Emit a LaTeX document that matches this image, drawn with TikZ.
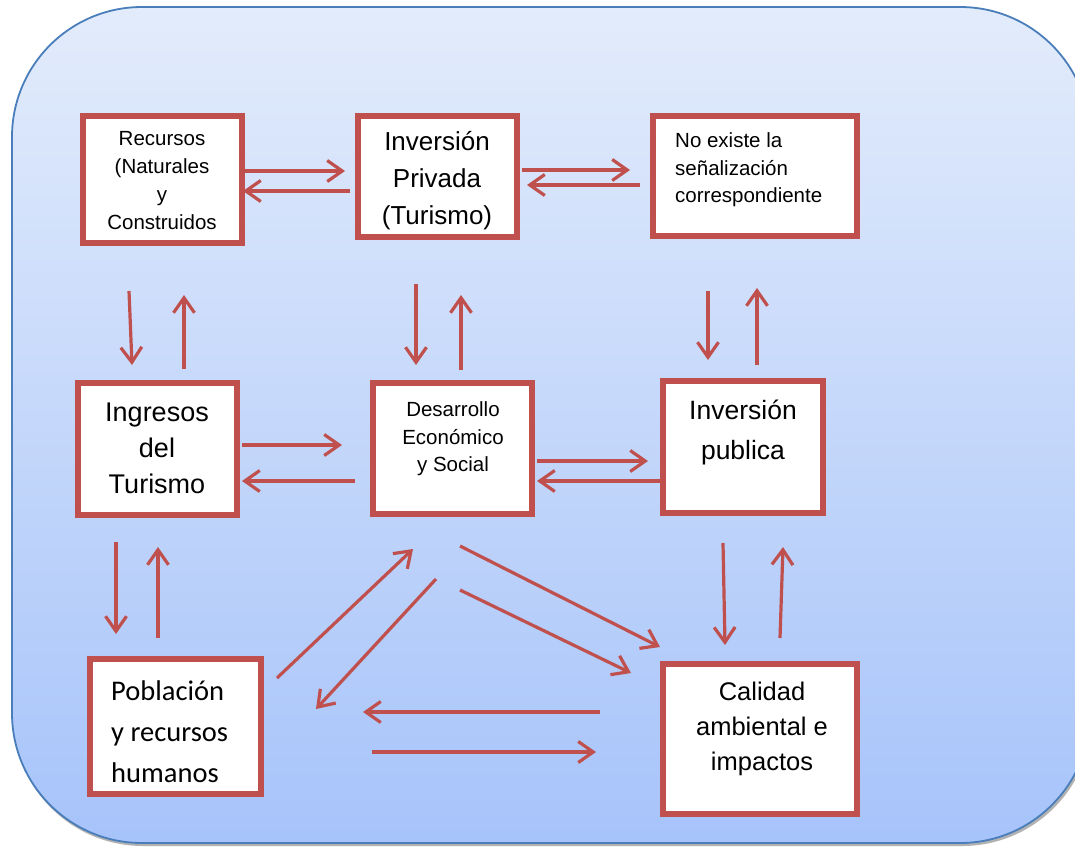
\documentclass[tikz,border=0pt]{standalone}
\usepackage{fontspec}
\setmainfont{Liberation Sans}
\newfontfamily\calib{Carlito}
\usetikzlibrary{arrows.meta}
\definecolor{boxred}{HTML}{C0504D}
\definecolor{bgtop}{HTML}{E3ECFB}
\definecolor{bgbot}{HTML}{A6C3FA}
\definecolor{bgedge}{HTML}{4A7EBB}
\tikzset{
  boxn/.style={draw=boxred, line width=5.8pt, fill=white, inner sep=0pt},
  arr/.style={draw=boxred, line width=3.2pt, -{Straight Barb[length=15pt,width=21pt,line width=3.2pt]}},
  txt/.style={inner sep=0pt, align=center, text=black},
  panel/.style={rounded corners=130pt},
}
\begin{document}
\begin{tikzpicture}[x=1pt,y=-1pt]
\useasboundingbox (0,0) rectangle (1075,846);
% background panel with shadow
\fill[gray!60, panel] (13,10) rectangle (1092,846);
\begin{scope}
\clip[panel] (12,7) -- (12,843) -- (1090,843) -- (1090,7) -- cycle;
\fill[top color=bgtop, bottom color=bgbot] (0,0) rectangle (1100,850);
\end{scope}
\draw[draw=bgedge, line width=1.8pt, panel] (12,7) -- (12,843) -- (1090,843) -- (1090,7) -- cycle;
% arrows
\foreach \n/\sx/\sy/\ex/\ey in {
  1/240/171/345/171, 2/350/191/243/191, 3/522/170/630/170, 4/640/185/527/185,
  5/129/291/132/365, 6/184/369/184/295, 7/416/284/416/365, 8/461/370/461/295,
  9/708/291/708/360, 10/757/365/757/288, 11/242/445/342/445, 12/355/481/242/481,
  13/537/461/648/461, 14/660/481/537/481, 15/116/542/116/634, 16/158/638/158/547,
  17/723/543/725/645, 18/780/638/783/547, 19/277/678/413/549, 20/436/579/316/709,
  21/460/546/660/647, 22/460/590/631/673, 23/600/712/363/712, 24/372/752/596/752}{
  \coordinate (s\n) at (\sx,\sy);
  \coordinate (e\n) at (\ex,\ey);
  \draw[arr] (s\n) -- (e\n);
}
% boxes
\node[boxn, minimum width=159.5pt, minimum height=127.5pt] (rec) at (162.5,179.5) {};
\node[boxn, minimum width=159.5pt, minimum height=121.5pt] (pri) at (437.5,176.5) {};
\node[boxn, minimum width=204.5pt, minimum height=120.5pt] (noe) at (755,176) {};
\node[boxn, minimum width=159.5pt, minimum height=132.5pt] (ing) at (157.5,449) {};
\node[boxn, minimum width=159.5pt, minimum height=131.5pt] (des) at (452.5,448.5) {};
\node[boxn, minimum width=160.5pt, minimum height=132.5pt] (inv) at (743,447) {};
\node[boxn, minimum width=171.5pt, minimum height=135.5pt] (pob) at (175.5,726.5) {};
\node[boxn, minimum width=194.5pt, minimum height=150.5pt] (cal) at (760,739) {};
% texts
\node[txt, font=\fontsize{20.5}{28}\selectfont] (trec) at (162,181) {Recursos\\(Naturales\\y\\Construidos};
\node[txt, font=\fontsize{26}{37}\selectfont] (tpri) at (437,181) {Inversión\\Privada\\(Turismo)};
\node[txt, align=left, anchor=west, font=\fontsize{20.5}{27.5}\selectfont] (tnoe) at (675,170) {No existe la\\señalización\\correspondiente};
\node[txt, font=\fontsize{27}{36}\selectfont] (ting) at (157,448) {Ingresos\\del\\Turismo};
\node[txt, font=\fontsize{20.5}{27.5}\selectfont] (tdes) at (453,439) {Desarrollo\\Económico\\y Social};
\node[txt, font=\fontsize{26.5}{40}\selectfont] (tinv) at (743,432) {Inversión\\publica};
\node[txt, font=\fontsize{25.5}{35}\selectfont] (tcal) at (762,729) {Calidad\\ambiental e\\impactos};
\node[txt, align=left, anchor=west, font=\calib\fontsize{28.5}{41}\selectfont] (tpob) at (111,732) {Población\\y recursos\\humanos};
\end{tikzpicture}
\end{document}
